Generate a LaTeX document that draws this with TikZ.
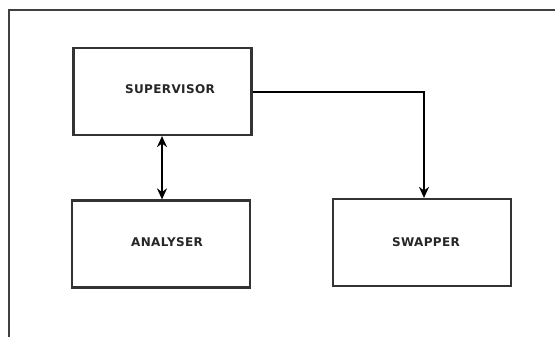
\documentclass[tikz,border=0pt]{standalone}
\usepackage{fontspec}
\setmainfont{DejaVu Sans}
\newfontfamily\lblfont[LetterSpace=3]{DejaVu Sans}
\usetikzlibrary{arrows.meta}
\begin{document}
\begin{tikzpicture}[x=1pt,y=-1pt,
  box/.style={draw=black!80,line width=2.2pt,minimum width=178pt,minimum height=87pt,inner sep=0pt},
  lbl/.style={font=\lblfont\fontsize{12}{14}\selectfont\bfseries,text=black!85},
  conn/.style={line width=1.6pt,-{Stealth[length=11pt,width=10pt]}}]
\useasboundingbox (0,0) rectangle (555,337);
\draw[black!75,line width=2pt] (8.5,337) -- (8.5,10.5) -- (555,10.5);
\node[box] (sup) at (162.5,91.5) {};
\node[box] (ana) at (161,244) {};
\node[box] (swp) at (422,242.5) {};
\node[lbl] (tsup) at (170,89) {SUPERVISOR};
\node[lbl] (tana) at (167,242) {ANALYSER};
\node[lbl] (tswp) at (426,242) {SWAPPER};
\coordinate (c1) at (162,0);
\draw[conn,{Stealth[length=11pt,width=10pt]}-{Stealth[length=11pt,width=10pt]}] (sup.south -| c1) -- (ana.north -| c1);
\coordinate (c2) at (424,92);
\draw[conn] (sup.east |- c2) -- (c2) -- (swp.north -| c2);
\end{tikzpicture}
\end{document}
